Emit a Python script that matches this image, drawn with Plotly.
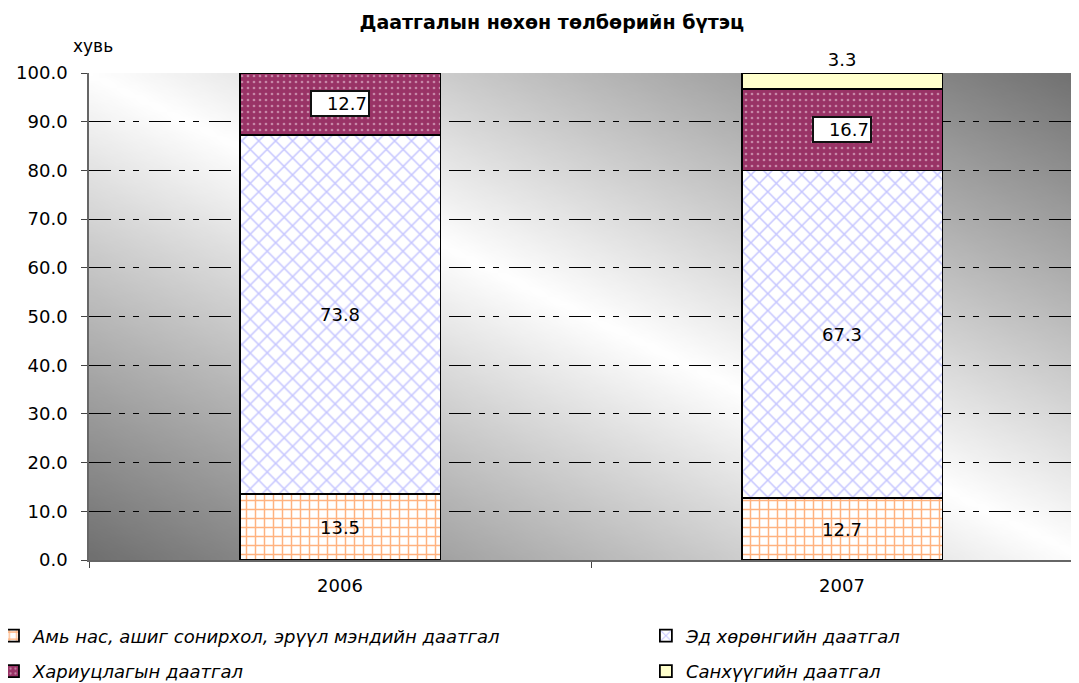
import base64, struct, zlib
import plotly.graph_objects as go

# ---------------- data ----------------
years = ["2006", "2007"]
series_names = [
    "Амь нас, ашиг сонирхол, эрүүл мэндийн даатгал",
    "Эд хөрөнгийн даатгал",
    "Хариуцлагын даатгал",
    "Санхүүгийн даатгал",
]
life_health = [13.5, 12.7]
property_ins = [73.8, 67.3]
liability = [12.7, 16.7]
financial = [0.0, 3.3]
y_ticks = [0, 10, 20, 30, 40, 50, 60, 70, 80, 90, 100]

title_text = "Даатгалын нөхөн төлбөрийн бүтэц"
unit_text = "хувь"

FONT = "DejaVu Sans, Verdana, sans-serif"


# ---------------- background gradient image (style only) ----------------
def gradient_png(w=160, h=100, dark=112):
    raw = bytearray()
    for j in range(h):
        v = j / (h - 1)
        raw.append(0)
        for i in range(w):
            u = i / (w - 1)
            c = int(round(255 - (255 - dark) * abs(v - u)))
            raw += bytes((c, c, c))

    def chunk(tag, data):
        c = struct.pack(">I", len(data)) + tag + data
        return c + struct.pack(">I", zlib.crc32(tag + data) & 0xFFFFFFFF)

    png = b"\x89PNG\r\n\x1a\n"
    png += chunk(b"IHDR", struct.pack(">IIBBBBB", w, h, 8, 2, 0, 0, 0))
    png += chunk(b"IDAT", zlib.compress(bytes(raw), 9))
    png += chunk(b"IEND", b"")
    return "data:image/png;base64," + base64.b64encode(png).decode()


# ---------------- styles ----------------
styles = [
    dict(color="white", pattern=dict(shape="+", fgcolor="#ff6600", bgcolor="white",
                                     size=9, solidity=0.3, fillmode="overlay")),
    dict(color="white", pattern=dict(shape="x", fgcolor="#8c8cff", bgcolor="white",
                                     size=12, solidity=0.24, fillmode="overlay")),
    dict(color="#993366", pattern=dict(shape=".", fgcolor="#f4dce8", bgcolor="#993366",
                                       size=6, solidity=0.16, fillmode="overlay")),
    dict(color="#ffffcc"),
]
legend_of = ["legend", "legend2", "legend", "legend2"]
values = [life_health, property_ins, liability, financial]
LABEL_SIZE = 18

fig = go.Figure()
for k, (name, vals) in enumerate(zip(series_names, values)):
    if k in (0, 1):
        txt = [f"{v:.1f}" for v in vals]
        pos = "inside"
    elif k == 3:
        txt = [f"{v:.1f}" if v > 0 else "" for v in vals]
        pos = "outside"
    else:
        txt = None
        pos = "none"
    fig.add_trace(go.Bar(
        x=years, y=vals, name=name,
        marker=dict(**styles[k], line=dict(color="black", width=1.8)),
        text=txt, textposition=pos, insidetextanchor="middle",
        textangle=0, constraintext="none", cliponaxis=False,
        textfont=dict(family=FONT, size=LABEL_SIZE, color="black"),
        outsidetextfont=dict(family=FONT, size=LABEL_SIZE, color="black"),
        legend=legend_of[k], legendgroup=name, showlegend=True,
        hoverinfo="x+y+name",
    ))

# boxed labels for the liability series
annotations = []
for i, yr in enumerate(years):
    base = life_health[i] + property_ins[i]
    annotations.append(dict(
        x=i, y=base + liability[i] / 2, xref="x", yref="y",
        text=f"{liability[i]:.1f}", showarrow=False,
        font=dict(family=FONT, size=LABEL_SIZE, color="black"),
        bgcolor="white", bordercolor="#111", borderwidth=2, borderpad=1,
        width=54, align="right", xshift=0,
    ))
annotations.append(dict(
    x=0.004, y=1.055, xref="paper", yref="paper", text=unit_text,
    showarrow=False, xanchor="center", yanchor="middle",
    font=dict(family=FONT, size=17, color="black"),
))

dash = "22px,8px,6px,8px,6px,10px"
LEG_FONT = dict(family=FONT, size=18, color="black", style="italic")

fig.update_layout(
    width=1079, height=683,
    margin=dict(l=81, r=0, t=65, b=131, autoexpand=False),
    barmode="stack", bargap=0.6,
    paper_bgcolor="white", plot_bgcolor="rgba(0,0,0,0)",
    title=dict(text=title_text, x=0.504, xanchor="center", y=0.9795, yanchor="middle",
               yref="container",
               font=dict(family=FONT, size=19, color="black", weight="bold")),
    font=dict(family=FONT, size=18, color="black"),
    images=[dict(source=gradient_png(), xref="paper", yref="paper", x=0, y=1,
                 sizex=1, sizey=1, sizing="stretch", layer="below", xanchor="left",
                 yanchor="top")],
    annotations=annotations,
    legend=dict(x=-0.0962, xanchor="left", y=-0.118, yanchor="top", orientation="v",
                traceorder="grouped", tracegroupgap=9, bgcolor="rgba(0,0,0,0)",
                font=LEG_FONT),
    legend2=dict(x=0.558, xanchor="left", y=-0.118, yanchor="top", orientation="v",
                 traceorder="grouped", tracegroupgap=9, bgcolor="rgba(0,0,0,0)",
                 font=LEG_FONT),
    showlegend=True,
)

fig.update_xaxes(
    type="category", range=[-0.5, 1.488], showgrid=False,
    showline=True, linecolor="#666", linewidth=1.5,
    ticks="outside", tickson="boundaries", ticklen=6, tickcolor="#444",
    ticklabelstandoff=9,
    tickfont=dict(family=FONT, size=18, color="black"), fixedrange=True,
)
fig.update_yaxes(
    range=[0, 100], tickvals=y_ticks, tickformat=".1f",
    showgrid=True, gridcolor="black", gridwidth=1, griddash=dash,
    zeroline=False, showline=True, linecolor="#666", linewidth=1.5,
    ticks="outside", ticklen=6, tickcolor="#444", ticklabelstandoff=10,
    tickfont=dict(family=FONT, size=18, color="black"), fixedrange=True,
)

fig.write_html("out.html")
